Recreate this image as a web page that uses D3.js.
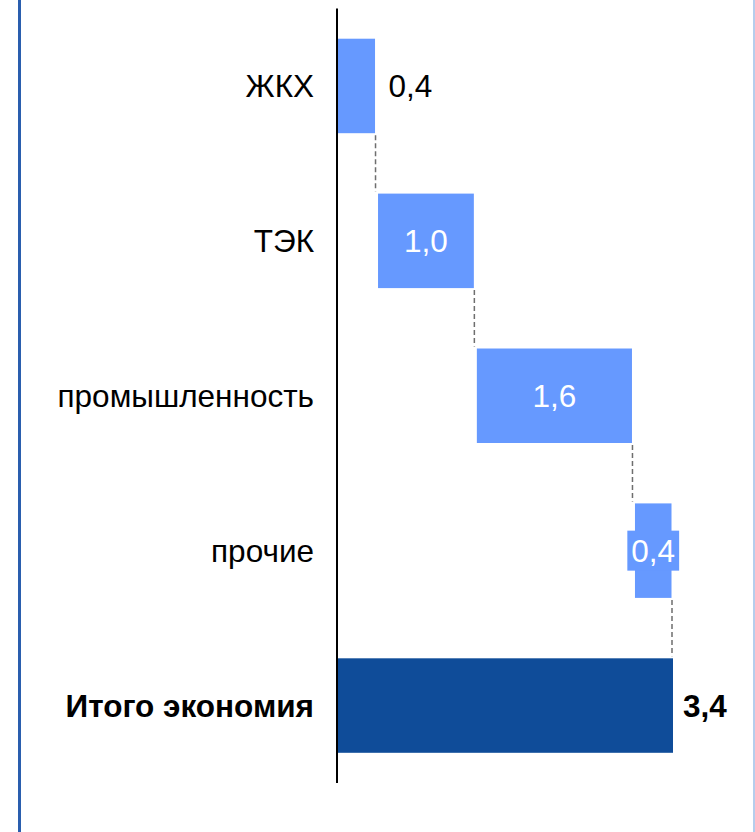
<!DOCTYPE html>
<html>
<head>
<meta charset="utf-8">
<script src="https://cdn.jsdelivr.net/npm/d3@7/dist/d3.min.js"></script>
<style>
  html, body { margin: 0; padding: 0; background: #fff; }
  svg { display: block; }
  text { font-family: "Liberation Sans", Arial, sans-serif; }
</style>
</head>
<body>
<script>
// Contributions to total savings, by sector
const categories = ["ЖКХ", "ТЭК", "промышленность", "прочие"];
const values = [0.4, 1.0, 1.6, 0.4];
const totalLabel = "Итого экономия";
const totalValue = 3.4;

const W = 755, H = 832;
const FS = 31.5;
const svg = d3.select("body").append("svg").attr("width", W).attr("height", H);

const fmt = v => d3.format(".1f")(v).replace(".", ",");

const rows = categories.concat([totalLabel]);
const y = d3.scaleBand().domain(rows).range([8.5, 783]).paddingInner(0.39).paddingOuter(0.195);
const x = d3.scaleLinear().domain([0, totalValue]).range([337, 673]);

// frame
svg.append("line").attr("x1", 19.5).attr("x2", 19.5).attr("y1", 0).attr("y2", H)
  .attr("stroke", "#2a5eae").attr("stroke-width", 3);
svg.append("line").attr("x1", 754).attr("x2", 754).attr("y1", 0).attr("y2", H)
  .attr("stroke", "#9dbde6").attr("stroke-width", 1.5);

// cumulative segments
let acc = 0;
const segs = categories.map((c, i) => {
  const s = { cat: c, v: values[i], start: acc, end: acc + values[i] };
  acc += values[i];
  return s;
});

const light = "#6699ff", dark = "#0f4c99";

// connectors
segs.forEach((s, i) => {
  const next = i + 1 < segs.length ? segs[i + 1].cat : totalLabel;
  svg.append("line")
    .attr("x1", x(s.end) - 1).attr("x2", x(s.end) - 1)
    .attr("y1", y(s.cat) + y.bandwidth() + 2)
    .attr("y2", y(next) - 2)
    .attr("stroke", "#6e6e6e").attr("stroke-width", 1.5)
    .attr("stroke-dasharray", "5,3");
});

// step bars
svg.selectAll("rect.step").data(segs).join("rect")
  .attr("class", "step")
  .attr("x", d => x(d.start) + (d.start === 0 ? 0 : 1.5))
  .attr("width", d => x(d.end) - x(d.start) - (d.start === 0 ? 1.5 : 3))
  .attr("y", d => y(d.cat))
  .attr("height", y.bandwidth())
  .attr("fill", light);

// total bar
svg.append("rect")
  .attr("x", x(0)).attr("width", x(totalValue) - x(0))
  .attr("y", y(totalLabel)).attr("height", y.bandwidth())
  .attr("fill", dark);

// axis line
svg.append("line").attr("x1", x(0)).attr("x2", x(0))
  .attr("y1", y.range()[0]).attr("y2", y.range()[1])
  .attr("stroke", "#000").attr("stroke-width", 2);

// category labels
svg.selectAll("text.cat").data(rows).join("text")
  .attr("class", "cat")
  .attr("x", 314)
  .attr("y", d => y(d) + y.bandwidth() / 2)
  .attr("dy", "0.36em")
  .attr("text-anchor", "end")
  .attr("font-size", FS)
  .attr("font-weight", d => d === totalLabel ? "bold" : "normal")
  .attr("fill", "#000")
  .text(d => d);

// value labels
segs.forEach(s => {
  const cy = y(s.cat) + y.bandwidth() / 2;
  const w = x(s.end) - x(s.start);
  if (w < 60) {
    if (s.start === 0) {
      svg.append("text").attr("x", x(s.end) + 12).attr("y", cy).attr("dy", "0.36em")
        .attr("font-size", FS).attr("fill", "#000").text(fmt(s.v));
    } else {
      const cx = (x(s.start) + x(s.end)) / 2;
      const t = svg.append("text").attr("x", cx).attr("y", cy).attr("dy", "0.36em")
        .attr("text-anchor", "middle").attr("font-size", FS).attr("fill", "#fff").text(fmt(s.v));
      const bb = t.node().getBBox();
      svg.insert("rect", () => t.node())
        .attr("x", bb.x - 4).attr("y", cy - 20).attr("width", bb.width + 8).attr("height", 40)
        .attr("fill", light);
    }
  } else {
    svg.append("text").attr("x", (x(s.start) + x(s.end)) / 2).attr("y", cy).attr("dy", "0.36em")
      .attr("text-anchor", "middle").attr("font-size", FS).attr("fill", "#fff").text(fmt(s.v));
  }
});

svg.append("text")
  .attr("x", x(totalValue) + 10)
  .attr("y", y(totalLabel) + y.bandwidth() / 2).attr("dy", "0.36em")
  .attr("font-size", FS).attr("font-weight", "bold").attr("fill", "#000")
  .text(fmt(totalValue));
</script>
</body>
</html>
